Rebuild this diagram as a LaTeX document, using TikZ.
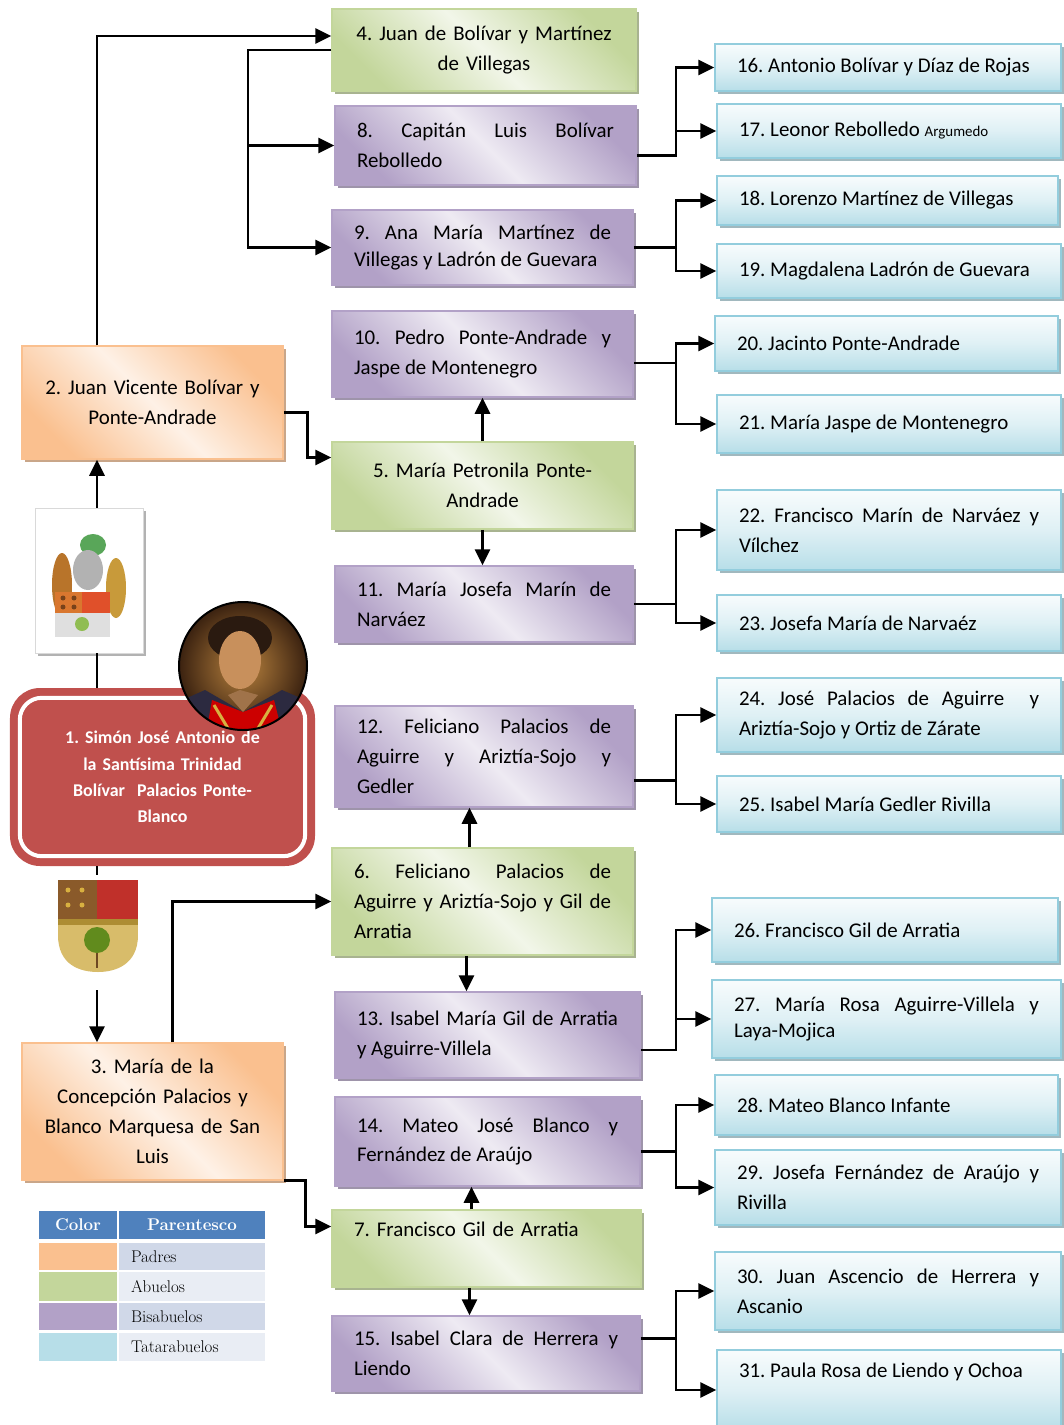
\documentclass[tikz,border=0pt]{standalone}
\usepackage{fontspec}
\newfontfamily\calibri{Carlito}
\usepackage{tikz}
\usetikzlibrary{arrows.meta,shadows}

\definecolor{padres}{HTML}{FAC08F}
\definecolor{abuelos}{HTML}{C3D69B}
\definecolor{bisab}{HTML}{B2A1C7}
\definecolor{tatara}{HTML}{B7DEE8}
\definecolor{tataraline}{HTML}{93CDDD}
\definecolor{rojo}{HTML}{C0504D}
\definecolor{cabecera}{HTML}{4F81BD}
\definecolor{filaA}{HTML}{D0D8E8}
\definecolor{filaB}{HTML}{E9EDF4}
\definecolor{fondoretrato}{HTML}{B8823E}
\definecolor{bordeoscuro}{HTML}{3B2210}
\definecolor{casaca}{HTML}{2C2A40}
\definecolor{pelo}{HTML}{2A1A10}
\definecolor{piel}{HTML}{C8905C}
\definecolor{oro}{HTML}{D8B040}
\definecolor{mantoA}{HTML}{B8742A}
\definecolor{mantoB}{HTML}{C89A3A}
\definecolor{escudoA}{HTML}{D9772F}
\definecolor{escudoB}{HTML}{E0502A}
\definecolor{pardo}{HTML}{8A5A2A}
\definecolor{granate}{HTML}{C0302A}
\definecolor{dorado}{HTML}{D8BC6A}

\frenchspacing
\hyphenpenalty=10000
\tolerance=10000
\hbadness=10000

\begin{document}
\begin{tikzpicture}[x=1bp,y=-1bp,
	gen/.style={draw=#1, line width=1.5bp, inner sep=0pt,
		font=\calibri\fontsize{21}{30}\selectfont,
		top color=#1, bottom color=#1, middle color=#1!22!white, shading angle=-45,
		drop shadow={shadow xshift=3bp, shadow yshift=-3bp, fill=#1!60!gray, opacity=1}},
	padre/.style={gen=padres, align=center},
	abuelo/.style={gen=abuelos},
	bisabuelo/.style={gen=bisab, align=justify},
	tatarabuelo/.style={gen=tatara, draw=tataraline, top color=tatara!10!white,
		bottom color=tatara, middle color=tatara!45!white, shading angle=0, align=justify},
	celda/.style={inner sep=0pt, font=\fontsize{17}{20}\selectfont, align=left},
	arr/.style={line width=2.8bp, -{Triangle[length=16bp,width=15bp]}},
	lin/.style={line width=2.8bp},
	]
	\path[use as bounding box, fill=white] (0,0) rectangle (1063,1425);

	% padres
	\node[padre, minimum width=261bp, minimum height=113bp, text width=225bp] (2) at (152.5,402.5) {2. Juan Vicente Bolívar y\\Ponte-Andrade};
	\node[padre, minimum width=261bp, minimum height=137bp, text width=225bp] (3) at (152.5,1111.5) {3. María de la\\Concepción Palacios y\\Blanco Marquesa de San\\Luis};

	% abuelos
	\node[abuelo, align=center, minimum width=304bp, minimum height=82bp, text width=260bp] (4) at (484,50) {4. Juan de Bolívar y Martínez\\de Villegas};
	\node[abuelo, align=center, minimum width=301bp, minimum height=87bp, text width=257bp] (5) at (482.5,485.5) {5. María Petronila Ponte-\\Andrade};
	\node[abuelo, align=justify, minimum width=301bp, minimum height=107bp, text width=257bp] (6) at (482.5,901.5) {6. Feliciano Palacios de\linebreak Aguirre y Ariztía-Sojo y Gil de\linebreak Arratia};
	\node[abuelo, align=left, minimum width=309bp, minimum height=77bp, text width=265bp] (7) at (486.5,1248.5) {7. Francisco Gil de Arratia\\\strut};

	% bisabuelos
	\node[bisabuelo, minimum width=301bp, minimum height=79bp, text width=257bp] (8) at (485.5,145.5) {8. Capitán Luis Bolívar\linebreak Rebolledo};
	\node[bisabuelo, minimum width=301bp, minimum height=75bp, text width=257bp, font=\calibri\fontsize{21}{27}\selectfont] (9) at (482.5,247.5) {9. Ana María Martínez de\linebreak Villegas y Ladrón de Guevara};
	\node[bisabuelo, minimum width=301bp, minimum height=86bp, text width=257bp] (10) at (482.5,354) {10. Pedro Ponte-Andrade y\linebreak Jaspe de Montenegro};
	\node[bisabuelo, minimum width=298bp, minimum height=76bp, text width=254bp] (11) at (484,604) {11. María Josefa Marín de\linebreak Narváez};
	\node[bisabuelo, minimum width=298bp, minimum height=101bp, text width=254bp] (12) at (484,756.5) {12. Feliciano Palacios de\linebreak Aguirre y Ariztía-Sojo y\linebreak Gedler};
	\node[bisabuelo, minimum width=305bp, minimum height=86bp, text width=261bp] (13) at (487.5,1035) {13. Isabel María Gil de Arratia\linebreak y Aguirre-Villela};
	\node[bisabuelo, minimum width=305bp, minimum height=89bp, text width=261bp] (14) at (487.5,1141.5) {14. Mateo José Blanco y\linebreak Fernández de Araújo};
	\node[bisabuelo, minimum width=308bp, minimum height=75bp, text width=264bp] (15) at (486,1353.5) {15. Isabel Clara de Herrera y\linebreak Liendo};

	% tatarabuelos
	\node[tatarabuelo, minimum width=346bp, minimum height=47bp, text width=302bp] (16) at (888,67.5) {16. Antonio Bolívar y Díaz de Rojas};
	\node[tatarabuelo, minimum width=344bp, minimum height=54bp, text width=300bp] (17) at (889,131) {17. Leonor Rebolledo {\fontsize{15}{30}\selectfont Argumedo}};
	\node[tatarabuelo, minimum width=341bp, minimum height=49bp, text width=297bp] (18) at (887.5,200.5) {18. Lorenzo Martínez de Villegas};
	\node[tatarabuelo, minimum width=344bp, minimum height=54bp, text width=300bp] (19) at (889,271) {19. Magdalena Ladrón de Guevara};
	\node[tatarabuelo, minimum width=343bp, minimum height=55bp, text width=299bp] (20) at (886.5,343.5) {20. Jacinto Ponte-Andrade};
	\node[tatarabuelo, minimum width=344bp, minimum height=58bp, text width=300bp] (21) at (889,424) {21. María Jaspe de Montenegro};
	\node[tatarabuelo, minimum width=344bp, minimum height=80bp, text width=300bp] (22) at (889,530) {22. Francisco Marín de Narváez y\linebreak Vílchez};
	\node[tatarabuelo, minimum width=344bp, minimum height=56bp, text width=300bp] (23) at (889,623) {23. Josefa María de Narvaéz};
	\node[tatarabuelo, minimum width=344bp, minimum height=74bp, text width=300bp] (24) at (889,715) {24. José Palacios de Aguirre~ y\linebreak Ariztía-Sojo y Ortiz de Zárate};
	\node[tatarabuelo, minimum width=344bp, minimum height=56bp, text width=300bp] (25) at (889,804) {25. Isabel María Gedler Rivilla};
	\node[tatarabuelo, minimum width=346bp, minimum height=64bp, text width=302bp] (26) at (885,930) {26. Francisco Gil de Arratia};
	\node[tatarabuelo, minimum width=349bp, minimum height=78bp, text width=305bp, font=\calibri\fontsize{21}{27}\selectfont] (27) at (886.5,1019) {27. María Rosa Aguirre-Villela y\linebreak Laya-Mojica};
	\node[tatarabuelo, minimum width=343bp, minimum height=60bp, text width=299bp] (28) at (886.5,1105) {28. Mateo Blanco Infante};
	\node[tatarabuelo, minimum width=346bp, minimum height=75bp, text width=302bp] (29) at (888,1187.5) {29. Josefa Fernández de Araújo y\linebreak Rivilla};
	\node[tatarabuelo, minimum width=346bp, minimum height=78bp, text width=302bp] (30) at (888,1291) {30. Juan Ascencio de Herrera y\linebreak Ascanio};
	\node[tatarabuelo, minimum width=344bp, minimum height=80bp, text width=300bp] (31) at (889,1390) {31. Paula Rosa de Liendo y Ochoa\\\strut};

	% escudos
	\node[draw=black!15, fill=white, minimum width=108bp, minimum height=145bp,
		drop shadow={shadow xshift=3bp, shadow yshift=-3bp, fill=black!30, opacity=1}] (c1) at (89,580.5) {};
	\fill[mantoA] (62,585) ellipse (10bp and 32bp);
	\fill[mantoB] (116,588) ellipse (10bp and 30bp);
	\fill[gray!70!green] (93,545) ellipse (13bp and 11bp);
	\fill[gray!60] (88,570) ellipse (15bp and 20bp);
	\fill[escudoA] (55,592) rectangle (82,613);
	\fill[escudoB] (82,592) rectangle (110,613);
	\fill[gray!25] (55,613) rectangle (110,637);
	\fill[black!45!escudoA] (63,598) circle (2.5bp);
	\fill[black!45!escudoA] (74,598) circle (2.5bp);
	\fill[black!45!escudoA] (63,607) circle (2.5bp);
	\fill[black!45!escudoA] (74,607) circle (2.5bp);
	\fill[yellow!50!green!70!gray] (82,624) circle (7bp);

	\node[minimum width=95bp, minimum height=115bp, inner sep=0pt] (c2) at (92.5,932.5) {};
	\begin{scope}
		\clip (58,880) -- (138,880) -- (138,935) .. controls (138,965) and (115,972) .. (98,972) .. controls (80,972) and (58,965) .. (58,935) -- cycle;
		\fill[pardo] (58,880) rectangle (97,919);
		\fill[granate] (97,880) rectangle (138,919);
		\fill[oro!80!black] (58,919) rectangle (138,925);
		\fill[dorado] (58,925) rectangle (138,975);
		\draw[pardo!80!black, line width=2bp] (97,945) -- (97,968);
		\fill[pardo!70!green] (97,940) circle (13bp);
		\fill[oro] (68,890) circle (2.5bp);
		\fill[oro] (82,890) circle (2.5bp);
		\fill[oro] (68,905) circle (2.5bp);
		\fill[oro] (82,905) circle (2.5bp);
	\end{scope}

	% Simon
	\node[fill=rojo, rounded corners=30bp, minimum width=305bp, minimum height=178bp, inner sep=0pt,
		text width=240bp, align=center, text=white, font=\calibri\bfseries\fontsize{18}{26.5}\selectfont] (1) at (162.5,777)
		{1. Simón José Antonio de\\la Santísima Trinidad\\Bolívar~ Palacios Ponte-\\Blanco};
	\draw[white, line width=4bp, rounded corners=22bp] ([shift={(10bp,-10bp)}]1.north west) rectangle ([shift={(-10bp,10bp)}]1.south east);

	% retrato
	\begin{scope}
		\clip (243,666) circle (64bp);
		\shade[inner color=fondoretrato, outer color=bordeoscuro] (243,666) circle (64bp);
		\fill[casaca] (170,740) -- (178,702) -- (205,690) -- (243,712) -- (282,690) -- (310,702) -- (318,740) -- cycle;
		\fill[red!80!black] (205,740) -- (212,700) -- (243,712) -- (274,700) -- (284,740) -- cycle;
		\draw[oro, line width=3bp] (214,705) -- (232,735);
		\draw[oro, line width=3bp] (272,705) -- (254,735);
		\fill[pelo] (240,638) ellipse (32bp and 22bp);
		\fill[piel] (240,660) ellipse (21bp and 29bp);
		\fill[piel!80!black] (240,690) -- (228,695) -- (243,712) -- (258,695) -- cycle;
	\end{scope}
	\draw[line width=2bp] (243,666) circle (64bp);

	% leyenda
	\node[celda, fill=cabecera, minimum width=78bp, minimum height=28bp, text=white, font=\bfseries\fontsize{17}{20}\selectfont] (lcolor) at (78,1225) {Color};
	\node[celda, fill=cabecera, minimum width=146bp, minimum height=28bp, text=white, font=\bfseries\fontsize{17}{20}\selectfont] (lparen) at (192,1225) {Parentesco};
	\node[celda, fill=padres, minimum width=78bp, minimum height=27bp] (lc2) at (78,1256.5) {};
	\node[celda, fill=filaA, minimum width=146bp, minimum height=27bp, text width=122bp] (lt2) at (192,1256.5) {Padres};
	\node[celda, fill=abuelos, minimum width=78bp, minimum height=29bp] (lc4) at (78,1286.5) {};
	\node[celda, fill=filaB, minimum width=146bp, minimum height=29bp, text width=122bp] (lt4) at (192,1286.5) {Abuelos};
	\node[celda, fill=bisab, minimum width=78bp, minimum height=27bp] (lc8) at (78,1316.5) {};
	\node[celda, fill=filaA, minimum width=146bp, minimum height=27bp, text width=122bp] (lt8) at (192,1316.5) {Bisabuelos};
	\node[celda, fill=tatara, minimum width=78bp, minimum height=28bp] (lc16) at (78,1347) {};
	\node[celda, fill=filaB, minimum width=146bp, minimum height=28bp, text width=122bp] (lt16) at (192,1347) {Tatarabuelos};

	% conectores izquierda
	\coordinate (tronco) at (97,0);
	\coordinate (r4) at (248,0);
	\coordinate (rd) at (676,0);
	\draw[lin] (c1.south -| tronco) -- (1.north -| tronco);
	\draw[arr] (c1.north -| tronco) -- (2.south -| tronco);
	\draw[lin] (1.south -| tronco) -- (c2.north -| tronco);
	\draw[arr] (c2.south -| tronco) -- (3.north -| tronco);
	\draw[arr] (2.north -| tronco) |- ([yshift=14bp]4.west);
	\draw[arr] (4.west) -| (r4 |- 9.west) -- (9.west);
	\draw[arr] (r4 |- 8.west) -- (8.west);
	\draw[arr] ([yshift=-10bp]2.east) -- ++(24bp,0) |- ([yshift=28bp]5.west);
	\draw[arr] (5.north) -- (10.south);
	\draw[arr] (5.south) -- (5.south |- 11.north);
	\draw[arr] ([xshift=20bp]3.north) |- (6.west);
	\draw[arr] ([xshift=-13bp]6.north) -- ([xshift=-13bp]6.north |- 12.south);
	\draw[arr] ([xshift=-16bp]6.south) -- ([xshift=-16bp]6.south |- 13.north);
	\draw[arr] (3.south east) -- ++(22bp,0) |- ([yshift=22bp]7.west);
	\draw[arr] ([xshift=-15bp]7.north) -- ([xshift=-15bp]7.north |- 14.south);
	\draw[arr] ([xshift=-17bp]7.south) -- ([xshift=-17bp]7.south |- 15.north);

	% conectores derecha
	\draw[arr] ([yshift=-10bp]8.east) -| (rd |- 16.west) -- (16.west);
	\draw[arr] ([yshift=-10bp]8.east -| rd) |- (17.west);
	\draw[arr] (9.east) -| (rd |- 18.west) -- (18.west);
	\draw[arr] (9.east -| rd) |- (19.west);
	\draw[arr] ([yshift=-9bp]10.east) -| (rd |- 20.west) -- (20.west);
	\draw[arr] ([yshift=-9bp]10.east -| rd) |- (21.west);
	\draw[arr] (11.east) -| (rd |- 22.west) -- (22.west);
	\draw[arr] (11.east -| rd) |- (23.west);
	\draw[arr] ([yshift=-24bp]12.east) -| (rd |- 24.west) -- (24.west);
	\draw[arr] ([yshift=-24bp]12.east -| rd) |- (25.west);
	\draw[arr] ([yshift=-15bp]13.east) -| (rd |- 26.west) -- (26.west);
	\draw[arr] ([yshift=-15bp]13.east -| rd) |- (27.west);
	\draw[arr] ([yshift=-10bp]14.east) -| (rd |- 28.west) -- (28.west);
	\draw[arr] ([yshift=-10bp]14.east -| rd) |- (29.west);
	\draw[arr] ([yshift=15bp]15.east) -| (rd |- 30.west) -- (30.west);
	\draw[arr] ([yshift=15bp]15.east -| rd) |- (31.west);
\end{tikzpicture}
\end{document}
